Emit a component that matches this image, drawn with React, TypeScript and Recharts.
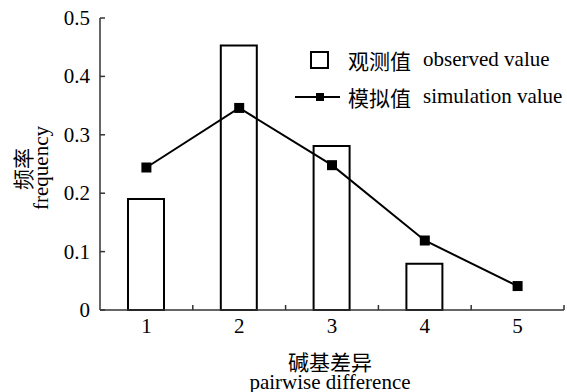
import { ComposedChart, Bar, Line, XAxis, YAxis } from 'recharts';

const categories = [1, 2, 3, 4, 5];
const observed = [0.19, 0.453, 0.281, 0.079, 0];
const simulated = [0.244, 0.346, 0.248, 0.119, 0.041];
const yTicks = [0, 0.1, 0.2, 0.3, 0.4, 0.5];
// tick marks sit between the categories
const boundaryTicks = [1.5, 2.5, 3.5, 4.5, 5.5];

const data = categories.map((c, i) => ({ x: c, observed: observed[i], simulated: simulated[i] }));

const FONT = '"Liberation Serif", "Times New Roman", "Noto Sans CJK SC", serif';
const AXIS = '#333';

const XTick = (props: any) => {
  const { x, y, payload } = props;
  const v = payload.value;
  if (Number.isInteger(v)) {
    return (
      <text x={x} y={y + 23} textAnchor="middle" fontFamily={FONT} fontSize={21} fill="#000">
        {v}
      </text>
    );
  }
  return <line x1={x} y1={y} x2={x} y2={y - 5} stroke={AXIS} strokeWidth={1.5} />;
};

const YTick = (props: any) => {
  const { x, y, payload } = props;
  return (
    <g>
      <line x1={x} y1={y} x2={x + 5} y2={y} stroke={AXIS} strokeWidth={1.5} />
      <text x={x - 10} y={y + 7} textAnchor="end" fontFamily={FONT} fontSize={21} fill="#000">
        {payload.value === 0 ? '0' : payload.value.toFixed(1)}
      </text>
    </g>
  );
};

const SquareDot = (props: any) => {
  const { cx, cy, index } = props;
  return <rect key={`dot-${index}`} x={cx - 5} y={cy - 5} width={10} height={10} fill="#000" />;
};

const LegendBox = () => (
  <div style={{ position: 'absolute', left: 295, top: 41, width: 272, fontFamily: FONT, fontSize: 21, color: '#000' }}>
    <div style={{ display: 'flex', alignItems: 'center', height: 37 }}>
      <div style={{ width: 53 }}>
        <div style={{ marginLeft: 15, width: 15, height: 14, border: '2px solid #000' }} />
      </div>
      <span style={{ width: 75 }}>观测值</span>
      <span>observed value</span>
    </div>
    <div style={{ display: 'flex', alignItems: 'center', height: 37 }}>
      <svg width={53} height={12}>
        <line x1={0} y1={6} x2={45} y2={6} stroke="#000" strokeWidth={2} />
        <rect x={21} y={2} width={8} height={8} fill="#000" />
      </svg>
      <span style={{ width: 75 }}>模拟值</span>
      <span>simulation value</span>
    </div>
  </div>
);

const App = () => {
  return (
    <div style={{ position: 'absolute', left: 0, top: 0, width: 567, height: 392, background: '#fff' }}>
      <ComposedChart width={567} height={392} data={data} margin={{ top: 18, right: 3, bottom: 0, left: 0 }}>
        <XAxis
          dataKey="x"
          type="number"
          domain={[0.5, 5.5]}
          ticks={[...categories, ...boundaryTicks].sort((a, b) => a - b)}
          interval={0}
          tick={<XTick />}
          tickLine={false}
          tickSize={0}
          tickMargin={0}
          height={82}
          axisLine={{ stroke: AXIS, strokeWidth: 1.5 }}
          label={{
            content: () => (
              <g fontFamily={FONT} fontSize={21} fill="#000">
                <text x={330} y={370} textAnchor="middle">碱基差异</text>
                <text x={330} y={389} textAnchor="middle">pairwise difference</text>
              </g>
            ),
          }}
        />
        <YAxis
          type="number"
          domain={[0, 0.5]}
          ticks={yTicks}
          interval={0}
          width={100}
          tick={<YTick />}
          tickLine={false}
          tickSize={0}
          tickMargin={0}
          axisLine={{ stroke: AXIS, strokeWidth: 1.5 }}
          label={{
            content: () => (
              <g fontFamily={FONT} fontSize={21} fill="#000">
                <text x={31} y={169} textAnchor="middle" transform="rotate(-90 31 169)">频率</text>
                <text x={48} y={168} textAnchor="middle" transform="rotate(-90 48 168)">frequency</text>
              </g>
            ),
          }}
        />
        <Bar dataKey="observed" barSize={36} fill="#fff" stroke="#000" strokeWidth={2} isAnimationActive={false} />
        <Line
          dataKey="simulated"
          type="linear"
          stroke="#000"
          strokeWidth={2}
          dot={SquareDot}
          activeDot={false}
          isAnimationActive={false}
        />
      </ComposedChart>
      <LegendBox />
    </div>
  );
};

export default App;
